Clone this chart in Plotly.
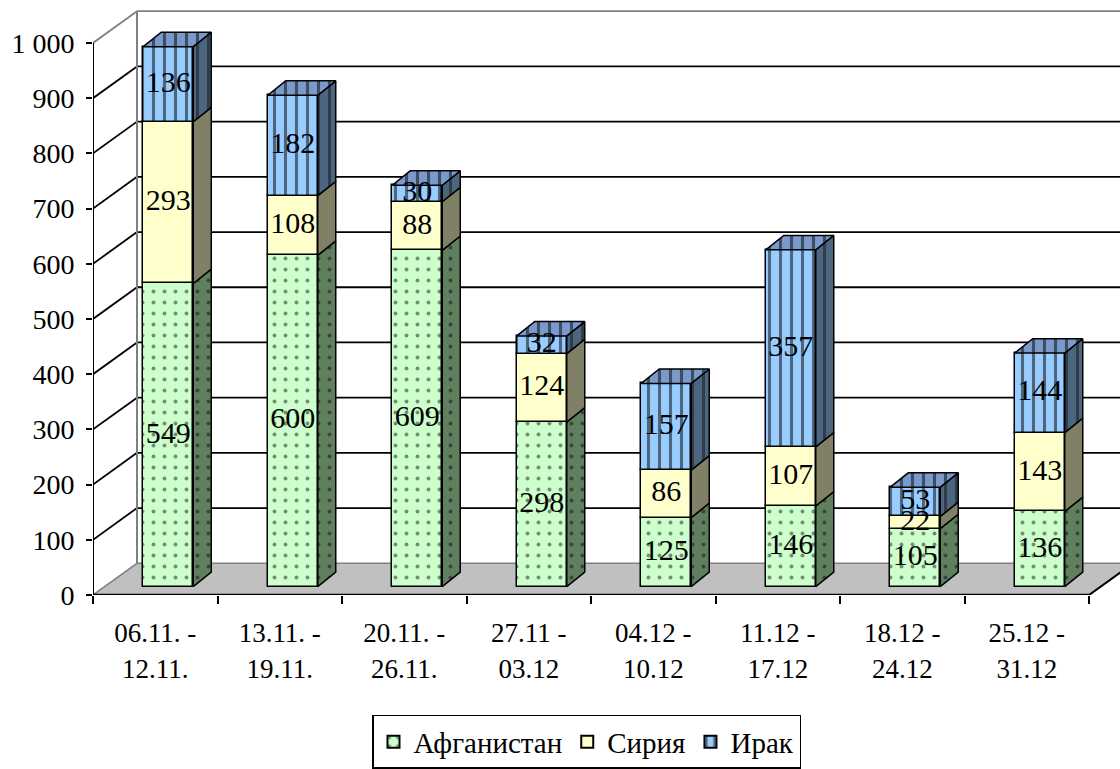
import plotly.graph_objects as go

# ---------------- data ----------------
categories = ["06.11. -<br>12.11.", "13.11. -<br>19.11.", "20.11. -<br>26.11.",
              "27.11 -<br>03.12", "04.12 -<br>10.12", "11.12 -<br>17.12",
              "18.12 -<br>24.12", "25.12 -<br>31.12"]
afghanistan = [549, 600, 609, 298, 125, 146, 105, 136]
syria = [293, 108, 88, 124, 86, 107, 22, 143]
iraq = [136, 182, 30, 32, 157, 357, 53, 144]
series_names = ["Афганистан", "Сирия", "Ирак"]
y_tick_vals = [0, 100, 200, 300, 400, 500, 600, 700, 800, 900, 1000]
y_tick_text = ["0", "100", "200", "300", "400", "500", "600", "700", "800", "900", "1 000"]

# ---------------- geometry / style ----------------
FONT = "Times New Roman, Liberation Serif, serif"
W, H = 1120, 769
L, T, B, R = 93, 0, 169, 0
plot_w = W - L - R
plot_h = H - T - B
px_x = 124.5      # px per category
px_y = 0.5567     # px per value unit
x0 = -0.5
x1 = x0 + plot_w / px_x
ncat = len(categories)
xend = x0 + ncat


def dxu(p):
    return p / px_x


def dyu(p):
    return p / px_y


wall_dx, wall_dy = dxu(44), dyu(32)
bar_dx0, bar_dy0 = dxu(13), dyu(8.5)
side_dx, side_dy = dxu(18), dyu(14.5)
bar_w = dxu(50)

colors = {
    "front": ["#CCFFCC", "#FFFFCC", "#99CCFF"],
    "side": ["#5F7F5F", "#808066", "#4C6680"],
    "top": ["#A3CCA3", "#CCCCA3", "#7A9ACC"],
}
patterns = [
    dict(shape=".", fgcolor="#1A1A1A", size=11, solidity=0.1),
    None,
    dict(shape="|", fgcolor="#000000", size=11, solidity=0.28),
]

series = [afghanistan, syria, iraq]
xs_center = [i + bar_dx0 for i in range(ncat)]

# bases for stacked segments
bases = []
run = [bar_dy0] * ncat
for s in series:
    bases.append(list(run))
    run = [r + v for r, v in zip(run, s)]
tops = run

fig = go.Figure()

# front faces
for k, (name, s) in enumerate(zip(series_names, series)):
    marker = dict(color=colors["front"][k], line=dict(color="black", width=1.5))
    if patterns[k] is not None:
        marker["pattern"] = dict(bgcolor=colors["front"][k], **patterns[k])
    fig.add_trace(go.Bar(
        x=xs_center, y=s, base=bases[k], width=bar_w, name=name,
        marker=marker, hoverinfo="skip",
    ))

# side faces
for k, s in enumerate(series):
    px_, py_ = [], []
    for i in range(ncat):
        xr = xs_center[i] + bar_w / 2
        y0 = bases[k][i]
        y1 = y0 + s[i]
        px_ += [xr, xr + side_dx, xr + side_dx, xr, xr, None]
        py_ += [y0, y0 + side_dy, y1 + side_dy, y1, y0, None]
    fp = None
    if patterns[k] is not None:
        fp = dict(bgcolor=colors["side"][k], **patterns[k])
        fp["fgcolor"] = "#111111"
    fig.add_trace(go.Scatter(
        x=px_, y=py_, mode="lines", fill="toself", fillcolor=colors["side"][k],
        fillpattern=fp, line=dict(color="black", width=1.5),
        showlegend=False, hoverinfo="skip",
    ))

# top faces
tx, ty = [], []
for i in range(ncat):
    xl = xs_center[i] - bar_w / 2
    xr = xs_center[i] + bar_w / 2
    yt = tops[i]
    tx += [xl, xl + side_dx, xr + side_dx, xr, xl, None]
    ty += [yt, yt + side_dy, yt + side_dy, yt, yt, None]
fig.add_trace(go.Scatter(
    x=tx, y=ty, mode="lines", fill="toself", fillcolor=colors["top"][2],
    fillpattern=dict(bgcolor=colors["top"][2], **patterns[2]),
    line=dict(color="black", width=1.5), showlegend=False, hoverinfo="skip",
))

# data labels
lx, ly, lt = [], [], []
for k, s in enumerate(series):
    for i in range(ncat):
        lx.append(xs_center[i])
        ly.append(bases[k][i] + s[i] / 2)
        lt.append(str(s[i]))
fig.add_trace(go.Scatter(
    x=lx, y=ly, text=lt, mode="text",
    textfont=dict(family=FONT, size=30, color="black"),
    showlegend=False, hoverinfo="skip",
))

# ---------------- 3D walls / floor ----------------
shapes = []
GRAY = "#808080"
# floor
shapes.append(dict(
    type="path", xref="x", yref="y", layer="below",
    path=f"M{x0},0 L{xend},0 L{xend + wall_dx},{wall_dy} L{x0 + wall_dx},{wall_dy} Z",
    fillcolor="#C0C0C0", line=dict(color=GRAY, width=1.5),
))
# gridlines on left and back wall
for v in y_tick_vals[1:]:
    col = GRAY if v == y_tick_vals[-1] else "black"
    shapes.append(dict(type="line", xref="x", yref="y", layer="below",
                       x0=x0, y0=v, x1=x0 + wall_dx, y1=v + wall_dy,
                       line=dict(color=col, width=1.8)))
    shapes.append(dict(type="line", xref="x", yref="y", layer="below",
                       x0=x0 + wall_dx, y0=v + wall_dy, x1=x1 + 1, y1=v + wall_dy,
                       line=dict(color=col, width=1.8)))
# back wall left edge
shapes.append(dict(type="line", xref="x", yref="y", layer="below",
                   x0=x0 + wall_dx, y0=wall_dy, x1=x0 + wall_dx, y1=y_tick_vals[-1] + wall_dy,
                   line=dict(color=GRAY, width=2)))
# front axis lines
shapes.append(dict(type="line", xref="x", yref="y", layer="above",
                   x0=x0, y0=0, x1=x0, y1=y_tick_vals[-1], line=dict(color="black", width=2)))
shapes.append(dict(type="line", xref="x", yref="y", layer="above",
                   x0=x0, y0=0, x1=xend, y1=0, line=dict(color="black", width=2.5)))
shapes.append(dict(type="line", xref="x", yref="y", layer="above",
                   x0=xend, y0=0, x1=xend + wall_dx, y1=wall_dy, line=dict(color="black", width=2)))

fig.update_layout(
    width=W, height=H,
    margin=dict(l=L, r=R, t=T, b=B, pad=0),
    paper_bgcolor="white", plot_bgcolor="white",
    barmode="overlay", bargap=0,
    font=dict(family=FONT, size=27, color="black"),
    shapes=shapes,
    showlegend=True,
    legend=dict(
        orientation="h", x=(372 - L) / plot_w, xanchor="left",
        y=(plot_h - 721) / plot_h, yanchor="top",
        bgcolor="white", bordercolor="black", borderwidth=1.5,
        font=dict(family=FONT, size=29, color="black"),
        traceorder="normal", itemsizing="constant", itemwidth=30,
    ),
    xaxis=dict(
        range=[x0, x1], showgrid=False, zeroline=False, showline=False,
        tickmode="array", tickvals=list(range(ncat)), ticktext=categories,
        ticks="outside", ticklen=10, tickcolor="rgba(0,0,0,0)",
        ticklabelstandoff=4, automargin=False,
        tickfont=dict(family=FONT, size=27),
        minor=dict(tickmode="array", tickvals=[x0 + i for i in range(ncat + 1)],
                   ticks="outside", ticklen=8, tickwidth=2, tickcolor="black"),
        fixedrange=True,
    ),
    yaxis=dict(
        range=[0, plot_h / px_y], showgrid=False, zeroline=False, showline=False,
        tickmode="array", tickvals=y_tick_vals, ticktext=y_tick_text,
        ticks="outside", ticklen=6, tickwidth=2, tickcolor="black",
        ticklabelstandoff=6, automargin=False,
        tickfont=dict(family=FONT, size=28),
        fixedrange=True,
    ),
)

fig.write_html("out.html", config={"displayModeBar": False},
               post_script="document.body.style.margin='0px';")
